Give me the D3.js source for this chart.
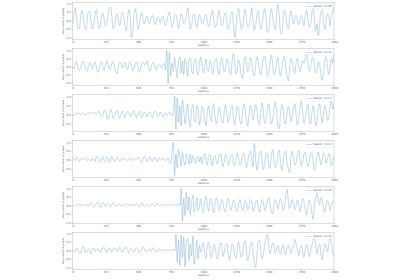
<!DOCTYPE html>
<html><head><meta charset="utf-8">
<script src="https://cdn.jsdelivr.net/npm/d3@7"></script>
<style>body{margin:0;background:#fff}svg{display:block}text{font-family:"DejaVu Sans",sans-serif;text-rendering:geometricPrecision}</style>
</head><body>
<svg id="c" width="400" height="280"></svg>
<script>
const stations = ["Station: 13.00","Station: 13.11","Station: 13.12","Station: 13.13","Station: 13.16","Station: 13.15"];
const xTicks = [0,250,500,750,1000,1250,1500,1750,2000];
const yTicks = [-1,-0.5,0,0.5,1];
const sampleStep = 10;
const xLabel = "Samples";
const yLabel = "Normalized Amplitude";

const s1 = [
-0.2,0.3,0.75,0.2,-0.4,-0.5,0.1,0.6,0.3,-0.3,
-0.55,-0.1,0.5,0.55,0.0,-0.5,-0.3,0.3,0.6,0.1,
-0.45,-0.35,0.2,0.45,0.1,-0.3,-0.2,0.3,0.7,0.8,
0.2,-0.5,-0.4,0.2,0.4,0.0,-0.3,0.1,0.5,0.3,
-0.3,-0.6,0.1,0.65,0.2,-1.0,-0.6,0.4,0.7,0.1,
-0.5,-0.3,0.3,0.45,0.0,-0.2,0.1,0.25,-0.1,-0.2,
0.15,0.3,0.05,-0.25,0.0,0.2,0.1,-0.15,0.1,0.25,
0.0,-0.3,-0.1,0.3,0.5,0.1,-0.4,-0.2,0.3,0.35,
-0.1,-0.45,0.0,0.4,0.2,-0.2,-0.1,0.3,0.75,0.2,
-0.5,-0.3,0.3,0.4,-0.1,-0.4,0.0,0.35,0.1,-0.2,
-0.1,0.25,0.35,-0.05,-0.35,-0.1,0.3,0.6,0.0,-0.4,
-0.3,0.2,0.6,0.2,-0.3,-0.2,0.3,0.45,-0.1,-0.5,
-0.3,0.3,0.5,-0.2,-1.0,-0.4,0.4,0.7,0.1,-0.5,
-0.4,0.3,0.65,0.1,-0.4,-0.3,0.2,0.75,0.0,-0.6,
-0.35,0.35,0.6,0.0,-0.5,-0.2,0.4,0.7,0.1,-0.7,
-0.6,0.2,0.7,0.3,-0.3,-0.5,0.3,0.95,0.4,-0.6,
-0.8,-0.1,0.6,0.4,-0.3,-0.5,0.1,0.55,0.2,-0.2,
0.1,0.3,-0.05,-0.25,0.1,0.3,0.0,-0.3,0.2,0.6,
0.2,-0.4,-0.3,0.4,0.8,0.0,-0.6,-0.2,-0.9,-0.3,
0.5,0.6,-0.1,-0.5,0.0,0.4,0.2,-0.3,0.3,0.5,
0.8];

const s2 = [
0.0,-0.15,0.2,0.3,-0.05,-0.25,-0.1,0.15,0.35,0.1,
-0.2,-0.3,0.0,0.25,0.1,-0.15,0.05,0.3,0.05,-0.35,
-0.2,0.1,0.3,0.0,-0.25,0.05,0.35,0.15,-0.2,-0.1,
0.2,0.3,-0.05,-0.3,-0.45,0.0,0.3,0.2,-0.1,0.05,
0.25,0.0,-0.2,0.1,0.3,0.05,-0.25,-0.1,0.2,0.3,
0.0,-0.35,-0.15,0.2,0.3,0.1,0.15,0.35,0.0,-0.3,
-0.1,0.2,0.25,-0.05,-0.2,0.0,0.15,0.1,-0.1,0.05,
0.2,-0.2,1.0,-1.05,0.85,-0.6,0.2,-0.3,0.55,-0.1,
-0.7,0.3,0.6,-0.4,0.35,-0.5,0.5,0.1,-0.6,0.4,
0.55,-0.2,-0.45,0.3,0.45,-0.3,-0.5,0.2,0.6,0.0,
-0.4,0.1,0.45,-0.15,-0.3,0.35,0.2,-0.45,-0.1,0.4,
0.5,-0.2,-0.5,0.1,0.55,0.2,-0.35,-0.1,0.45,0.3,
-0.3,-0.5,0.3,0.8,0.2,-0.45,-0.2,0.4,0.1,-0.55,
-0.75,0.1,0.6,0.2,-0.3,0.0,0.55,0.3,-0.4,-0.6,
0.1,0.6,0.35,-0.2,-0.5,0.0,0.5,0.65,0.1,-0.55,
-0.4,0.3,0.7,0.2,-0.5,-0.35,0.25,0.55,-0.1,-0.6,
-0.2,0.4,0.6,-0.1,-0.55,-0.9,-0.2,0.5,0.3,-0.2,
-0.4,0.2,0.5,0.1,-0.3,0.0,0.35,0.2,0.5,0.8,
0.3,-0.3,-0.1,0.45,0.55,0.0,-0.4,-0.2,0.3,0.1,
-0.5,-0.85,-0.3,0.4,0.6,0.0,-0.5,-0.1,0.5,0.2,
0.75];

const s3 = [
0.0,-0.05,0.05,0.1,0.05,0.08,0.02,0.05,0.1,0.05,
0.0,0.05,0.1,0.08,0.12,0.05,0.1,0.15,0.05,0.1,
0.2,0.05,-0.1,-0.05,0.2,0.25,-0.1,-0.25,0.0,0.3,
0.15,-0.2,-0.1,0.15,0.25,-0.05,-0.2,0.05,0.2,0.0,
-0.15,0.05,0.2,0.1,-0.1,-0.05,0.15,0.2,-0.05,-0.15,
0.1,0.2,0.0,-0.15,0.05,0.15,0.05,-0.1,0.1,0.15,
-0.05,-0.15,0.05,0.2,0.1,-0.1,-0.05,0.15,0.05,-0.1,
0.0,0.1,-0.05,0.05,0.15,0.0,-0.05,0.1,1.0,-0.8,
0.9,-0.4,0.5,-0.6,0.8,0.2,-0.5,0.1,0.6,-0.3,
-0.65,0.3,0.55,-0.2,-0.4,0.5,0.3,-0.55,-0.2,0.45,
0.35,-0.3,-0.6,0.1,0.5,-0.05,-0.35,0.25,0.6,-0.1,
-0.5,-0.15,0.4,0.2,-0.3,-0.45,0.2,0.55,0.1,-0.4,
-0.2,0.35,0.5,-0.15,-0.55,0.0,0.45,0.3,-0.35,-0.5,
0.15,0.6,0.25,-0.3,-0.6,0.05,0.5,0.2,-0.25,0.1,
0.55,0.3,-0.4,-0.55,0.2,0.65,0.1,-0.45,-0.3,0.35,
0.6,0.0,-0.5,-0.25,0.3,0.7,0.2,-0.6,-0.75,0.0,
0.55,0.35,-0.3,-0.5,0.1,0.45,0.15,-0.35,-0.1,0.4,
0.6,0.0,-0.55,-0.2,0.35,0.75,0.2,-0.45,-0.2,0.3,
0.55,-0.1,-0.5,0.05,0.5,0.2,-0.6,-0.35,0.3,0.6,
0.0,-0.45,0.1,0.5,0.25,-0.3,-0.1,0.4,0.75,0.3,
0.6];

const s4 = [
0.0,0.05,-0.05,0.15,0.05,-0.1,0.05,0.1,0.0,0.05,
0.1,-0.05,0.05,0.0,-0.05,0.1,0.05,-0.1,0.15,0.2,
-0.1,-0.15,0.15,0.2,-0.05,-0.1,0.15,0.1,-0.15,0.0,
0.2,0.1,-0.1,-0.05,0.15,0.05,-0.1,0.05,0.1,0.0,
0.05,0.0,-0.05,0.05,0.1,0.0,-0.05,0.05,0.0,0.05,
0.15,0.1,-0.1,-0.15,0.1,0.2,0.05,-0.1,0.0,0.15,
0.05,-0.1,0.1,0.15,-0.05,-0.1,0.1,0.05,0.0,0.1,
0.05,-0.05,0.0,0.1,-0.15,-0.2,0.4,1.0,-0.9,0.3,
-0.45,0.6,0.2,-0.35,0.4,-0.1,-0.3,0.35,0.1,-0.25,
0.3,-0.2,0.25,0.1,-0.2,0.05,0.2,-0.1,0.15,-0.25,
0.2,0.35,-0.15,-0.3,0.2,0.3,-0.05,-0.35,0.1,0.25,
-0.1,-0.25,0.2,0.35,0.0,-0.4,-0.1,0.3,0.15,-0.3,
-0.15,0.25,0.3,-0.2,-0.35,0.1,0.4,0.05,-0.3,-0.1,
0.3,0.4,-0.1,-0.45,-0.1,0.35,0.5,0.0,-0.4,0.95,
0.1,-0.6,-0.2,0.35,0.5,-0.1,-0.55,-0.2,0.4,0.3,
-0.3,-0.5,0.2,0.6,0.1,-0.45,-0.3,0.3,0.55,-0.1,
-0.6,-0.2,0.35,0.5,-0.1,-0.5,-0.75,0.1,0.5,0.2,
-0.3,-0.15,0.3,0.55,0.0,-0.35,-0.1,0.3,0.45,0.0,
-0.4,-0.15,0.3,0.4,-0.05,-0.6,-0.3,0.2,0.45,0.1,
-0.3,0.05,0.35,0.2,-0.2,0.0,0.35,0.2,-0.35,-0.1,
0.2];

const s5 = [
0.0,-0.05,0.02,0.05,0.0,0.05,-0.02,0.03,0.05,0.0,
0.05,0.02,-0.03,0.08,0.15,0.05,-0.1,0.0,0.1,0.2,
0.05,-0.1,0.0,0.15,0.1,-0.05,0.05,0.12,0.0,-0.1,
0.05,0.15,0.05,-0.05,0.0,0.08,0.03,-0.05,0.05,0.02,
-0.05,0.05,0.1,0.0,-0.05,0.05,0.02,0.0,0.05,0.1,
0.02,-0.08,0.05,0.15,0.05,-0.05,0.0,0.08,0.02,-0.03,
0.05,0.08,0.0,-0.05,0.05,0.1,0.02,-0.02,0.05,0.03,
0.0,0.05,0.02,-0.03,0.04,0.06,0.0,0.02,0.05,0.0,
0.03,0.1,0.0,1.0,-0.95,0.4,-0.6,0.75,-0.3,0.5,
-0.55,0.2,0.6,-0.4,-0.1,0.45,-0.3,0.0,0.4,-0.2,
-0.45,0.2,0.55,0.0,-0.35,0.25,0.4,-0.2,-0.45,0.1,
0.45,0.15,-0.3,-0.1,0.35,0.2,-0.25,-0.4,0.15,0.4,
0.1,-0.3,-0.05,0.3,0.2,-0.2,-0.35,0.1,0.35,0.0,
-0.3,-0.1,0.3,0.15,-0.25,-0.05,0.35,0.25,-0.35,-0.2,
0.2,0.3,-0.1,-0.4,0.0,0.35,0.15,-0.3,-0.1,0.25,
0.45,0.1,-0.35,-0.5,0.0,0.35,0.2,-0.2,0.1,0.4,
0.2,-0.3,-0.15,0.5,0.95,0.3,-0.2,0.05,0.35,0.15,
-0.25,-0.05,0.3,0.1,-0.35,-0.1,0.4,0.25,-0.3,-0.55,
-0.1,0.3,0.1,-0.4,-0.8,0.0,0.45,0.75,0.3,0.05,
0.45,0.3,-0.2,-0.4,0.05,0.3,0.1,-0.3,0.0,0.2,
0.25];

const s6 = [
0.05,0.0,-0.05,0.15,0.1,-0.1,-0.15,0.1,0.25,0.05,
-0.1,0.0,0.1,-0.05,-0.2,0.1,0.15,-0.05,0.05,0.1,
0.05,-0.1,0.0,0.15,0.2,0.0,-0.15,0.05,0.15,0.05,
-0.1,0.05,0.15,0.1,-0.05,0.05,0.2,0.1,-0.1,0.0,
0.15,0.2,0.0,-0.15,0.05,0.1,0.0,-0.1,0.1,0.15,
0.05,-0.1,-0.05,0.1,0.2,0.05,-0.1,0.0,0.1,0.05,
-0.05,0.1,0.15,0.0,-0.1,0.05,0.1,0.0,0.05,0.02,
0.0,0.05,0.03,0.0,0.05,0.02,-0.02,0.05,0.0,0.95,
-0.7,0.6,-0.9,0.9,-0.4,0.8,-0.95,0.5,0.7,-0.6,
0.4,-0.3,0.85,-0.8,-0.2,0.6,-0.5,0.3,-0.1,0.2,
0.45,-0.2,-0.45,0.25,0.5,0.0,-0.4,-0.15,0.35,0.2,
-0.3,-0.5,0.1,0.45,0.2,-0.35,-0.1,0.3,0.4,-0.2,
-0.55,-0.1,0.4,0.25,-0.3,-0.45,0.15,0.5,0.0,-0.4,
-0.2,0.35,0.55,0.0,-0.6,-0.3,0.3,0.5,-0.1,-0.7,
-1.0,-0.2,0.5,0.6,-0.1,-0.5,-0.2,0.4,0.7,0.95,
0.3,-0.2,0.1,0.45,0.2,-0.15,0.1,0.3,0.0,-0.2,
0.15,0.35,0.05,-0.25,0.1,0.3,0.1,-0.2,0.05,0.25,
0.65,0.4,0.0,-0.3,0.1,0.3,-0.1,-0.4,0.1,0.35,
0.1,-0.35,-0.1,0.3,0.55,0.8,0.3,-0.2,0.2,0.4,
-0.2,-0.55,0.0,0.4,0.2,-0.1,0.3,0.75,0.5,-0.1,
-0.4];

const series = [s1,s2,s3,s4,s5,s6];

const svg = d3.select("#c");
const left = 72.7, right = 334, plotH = 36.5, top0 = 2.7, gap = 46;
const fs = 2.6;
const textCol = "#444";
const x = d3.scaleLinear().domain([0,2000]).range([left,right]);
const fmtY = v => d3.format(".1f")(v).replace("-","\u2212");

series.forEach((vals,i)=>{
  const top = top0 + gap*i;
  const [mn,mx] = d3.extent(vals);
  const pad = (mx-mn)*0.05;
  const y = d3.scaleLinear().domain([mn-pad,mx+pad]).range([top+plotH,top]);
  const g = svg.append("g");
  g.append("clipPath").attr("id","cl"+i).append("rect")
    .attr("x",left).attr("y",top).attr("width",right-left).attr("height",plotH);
  const line = d3.line().x((d,j)=>x(j*sampleStep)).y(d=>y(d)).curve(d3.curveCatmullRom);
  g.append("path").datum(vals).attr("d",line).attr("clip-path","url(#cl"+i+")")
    .attr("fill","none").attr("stroke","#1f77b4").attr("stroke-opacity",0.5).attr("stroke-width",0.55);

  const xa = g.append("g").attr("transform",`translate(0,${top+plotH})`)
    .call(d3.axisBottom(x).tickValues(xTicks).tickSize(1.2).tickPadding(0.6).tickFormat(d3.format("d")));
  const ya = g.append("g").attr("transform",`translate(${left},0)`)
    .call(d3.axisLeft(y).tickValues(yTicks.filter(v=>v>=y.domain()[0]&&v<=y.domain()[1])).tickSize(1.2).tickPadding(0.8).tickFormat(fmtY));
  [xa,ya].forEach(a=>{
    a.select(".domain").remove();
    a.selectAll(".tick line").attr("stroke","#555").attr("stroke-width",0.3);
    a.selectAll(".tick text").attr("font-size",fs).attr("fill",textCol).attr("fill-opacity",0.95).attr("font-family","DejaVu Sans");
  });
  g.append("rect").attr("x",left).attr("y",top).attr("width",right-left).attr("height",plotH)
    .attr("fill","none").attr("stroke","#bbb").attr("stroke-width",0.5);

  g.append("text").attr("x",(left+right)/2).attr("y",top+plotH+6.8).attr("text-anchor","middle")
    .attr("font-size",fs).attr("fill",textCol).attr("fill-opacity",0.95).text(xLabel);
  g.append("text").attr("transform",`translate(${left-8.5},${top+plotH/2}) rotate(-90)`)
    .attr("text-anchor","middle").attr("font-size",2.4).attr("fill",textCol).attr("fill-opacity",0.95).text(yLabel);

  // legend
  const lw = 27.5, lh = 5.2, lx = right-lw-1.2, ly = top+1.2;
  g.append("rect").attr("x",lx).attr("y",ly).attr("width",lw).attr("height",lh).attr("rx",0.6)
    .attr("fill","#fff").attr("fill-opacity",0.8).attr("stroke","#ddd").attr("stroke-width",0.3);
  g.append("line").attr("x1",lx+1.2).attr("x2",lx+6.5).attr("y1",ly+lh/2).attr("y2",ly+lh/2)
    .attr("stroke","#1f77b4").attr("stroke-opacity",0.5).attr("stroke-width",0.55);
  g.append("text").attr("x",lx+8).attr("y",ly+lh/2+0.9).attr("font-size",fs).attr("fill",textCol).attr("fill-opacity",0.95).text(stations[i]);
});
</script>
</body></html>
